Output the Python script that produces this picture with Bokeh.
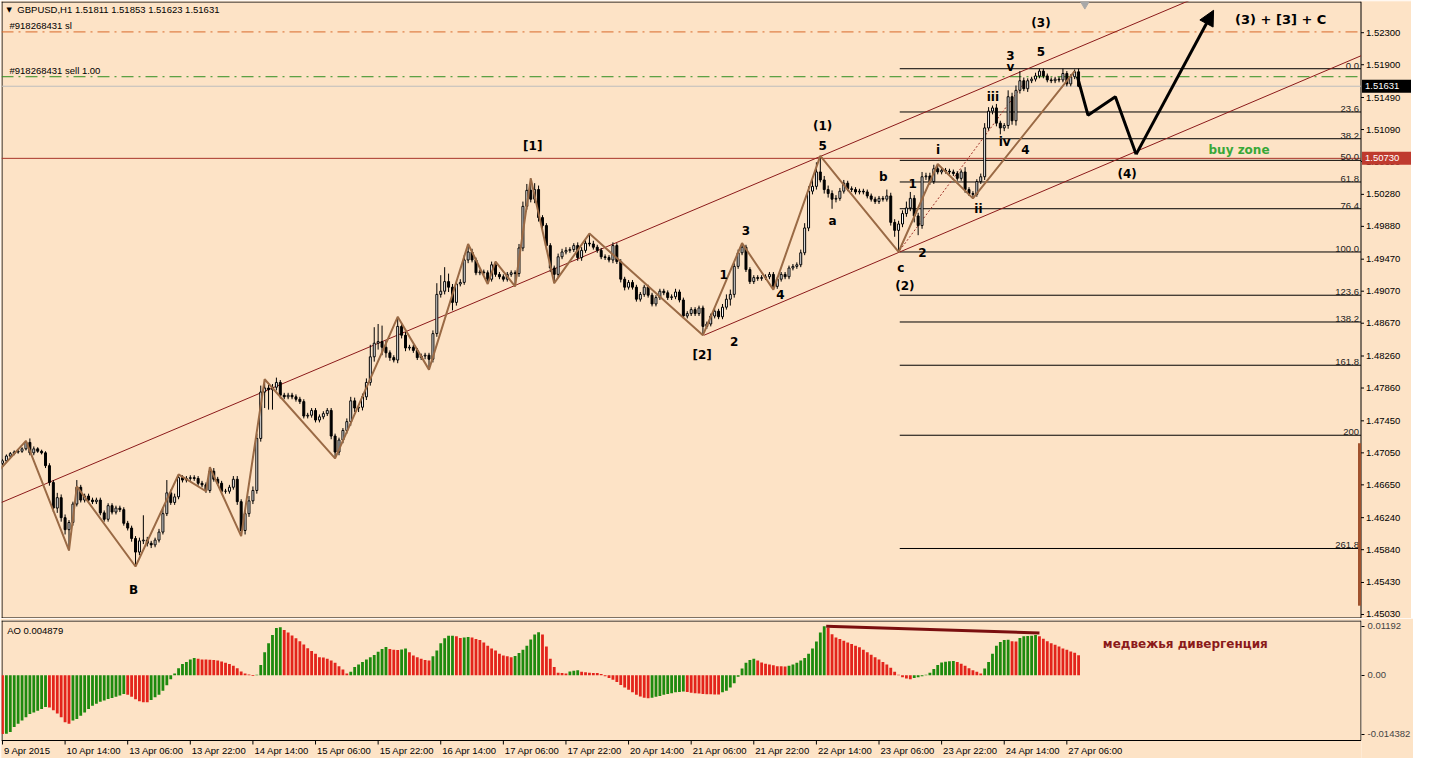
from bokeh.plotting import figure
from bokeh.models import (ColumnDataSource, Range1d, FixedTicker, Arrow, NormalHead)
from bokeh.layouts import column
from bokeh.core.properties import value
from bokeh.embed import file_html
from bokeh.resources import INLINE

BG = "#FDE3C6"
PIP = 0.0001
FW = 1360
AXW = 50

# ---------------- data ----------------
OPEN0 = 1.4692
closes = [
    1.4695, 1.4701, 1.4704, 1.4706, 1.4707, 1.4710, 1.4718, 1.4705, 1.4710, 1.4707,
    1.4705, 1.4689, 1.4668, 1.4636, 1.4649, 1.4624, 1.4609, 1.4618, 1.4641, 1.4662,
    1.4646, 1.4651, 1.4646, 1.4644, 1.4646, 1.4630, 1.4622, 1.4639, 1.4631, 1.4636,
    1.4634, 1.4617, 1.4611, 1.4598, 1.4581, 1.4595, 1.4596, 1.4592, 1.4590, 1.4596,
    1.4606, 1.4629, 1.4655, 1.4643, 1.4650, 1.4674, 1.4671, 1.4673, 1.4674, 1.4673,
    1.4667, 1.4665, 1.4658, 1.4682, 1.4672, 1.4667, 1.4657, 1.4657, 1.4662, 1.4672,
    1.4644, 1.4608, 1.4629, 1.4645, 1.4658, 1.4723, 1.4781, 1.4786, 1.4784, 1.4787,
    1.4793, 1.4777, 1.4775, 1.4777, 1.4775, 1.4772, 1.4769, 1.4751, 1.4752, 1.4758,
    1.4746, 1.4750, 1.4754, 1.4758, 1.4726, 1.4706, 1.4721, 1.4733, 1.4744, 1.4770,
    1.4761, 1.4762, 1.4775, 1.4793, 1.4825, 1.4842, 1.4844, 1.4837, 1.4830, 1.4824,
    1.4821, 1.4863, 1.4852, 1.4836, 1.4837, 1.4833, 1.4824, 1.4826, 1.4827, 1.4822,
    1.4854, 1.4903, 1.4907, 1.4919, 1.4912, 1.4893, 1.4916, 1.4918, 1.4946, 1.4956,
    1.4946, 1.4930, 1.4931, 1.4930, 1.4922, 1.4940, 1.4928, 1.4925, 1.4922, 1.4928,
    1.4930, 1.4929, 1.4961, 1.5013, 1.5033, 1.5022, 1.5034, 1.4999, 1.4989, 1.4964,
    1.4936, 1.4928, 1.4950, 1.4956, 1.4958, 1.4959, 1.4964, 1.4949, 1.4958, 1.4967,
    1.4966, 1.4962, 1.4958, 1.4950, 1.4949, 1.4946, 1.4964, 1.4944, 1.4922, 1.4912,
    1.4918, 1.4912, 1.4897, 1.4903, 1.4912, 1.4902, 1.4891, 1.4899, 1.4907, 1.4905,
    1.4899, 1.4900, 1.4906, 1.4896, 1.4876, 1.4879, 1.4884, 1.4879, 1.4886, 1.4863,
    1.4866, 1.4876, 1.4882, 1.4875, 1.4887, 1.4897, 1.4903, 1.4938, 1.4955, 1.4962,
    1.4934, 1.4919, 1.4924, 1.4923, 1.4924, 1.4925, 1.4928, 1.4913, 1.4922, 1.4928,
    1.4925, 1.4936, 1.4938, 1.4940, 1.4955, 1.4986, 1.5032, 1.5038, 1.5056, 1.5046,
    1.5034, 1.5029, 1.5022, 1.5023, 1.5032, 1.5042, 1.5035, 1.5034, 1.5031, 1.5032,
    1.5031, 1.5026, 1.5022, 1.5019, 1.5023, 1.5022, 1.5026, 1.4993, 1.4983, 1.4991,
    1.5004, 1.5011, 1.5023, 1.5001, 1.4989, 1.5050, 1.5051, 1.5044, 1.5060, 1.5056,
    1.5058, 1.5057, 1.5056, 1.5054, 1.5048, 1.5056, 1.5034, 1.5029, 1.5028, 1.5044,
    1.5050, 1.5111, 1.5132, 1.5136, 1.5117, 1.5111, 1.5114, 1.5150, 1.5120, 1.5158,
    1.5170, 1.5160, 1.5170, 1.5172, 1.5176, 1.5182, 1.5176, 1.5171, 1.5170, 1.5172,
    1.5171, 1.5179, 1.5166, 1.5175, 1.51811, 1.51631,
]
# upper / lower wick lengths in pips
wick_up = [
    2, 2, 2, 2, 2, 2, 2, 5, 3, 2,
    2, 2, 3, 3, 6, 4, 4, 3, 3, 9,
    3, 3, 3, 3, 3, 3, 3, 3, 3, 3,
    3, 3, 3, 3, 3, 4, 31, 4, 3, 3,
    4, 8, 16, 4, 4, 4, 3, 3, 3, 3,
    3, 3, 3, 5, 4, 3, 3, 3, 3, 4,
    4, 3, 4, 6, 5, 6, 8, 11, 4, 4,
    6, 3, 3, 3, 3, 3, 3, 3, 3, 3,
    3, 3, 3, 3, 3, 3, 3, 3, 4, 5,
    4, 4, 4, 5, 15, 20, 22, 20, 8, 3,
    3, 12, 4, 4, 3, 3, 3, 3, 3, 3,
    4, 14, 20, 18, 10, 4, 3, 4, 6, 10,
    4, 3, 3, 3, 3, 4, 4, 3, 3, 3,
    3, 3, 5, 6, 8, 15, 8, 5, 3, 3,
    3, 3, 4, 4, 4, 3, 3, 4, 4, 6,
    12, 4, 3, 3, 3, 3, 4, 3, 3, 3,
    3, 3, 3, 3, 3, 3, 3, 3, 3, 3,
    3, 3, 4, 3, 3, 3, 3, 3, 3, 3,
    3, 3, 3, 3, 4, 6, 6, 4, 4, 5,
    3, 3, 3, 3, 3, 3, 3, 3, 3, 3,
    3, 3, 3, 3, 4, 6, 6, 8, 12, 20,
    5, 5, 4, 4, 4, 4, 3, 3, 3, 3,
    3, 3, 3, 3, 3, 3, 8, 4, 4, 4,
    4, 8, 8, 4, 4, 6, 4, 4, 5, 5,
    3, 3, 3, 3, 3, 3, 6, 3, 3, 3,
    4, 6, 5, 3, 5, 3, 3, 8, 5, 6,
    12, 4, 3, 3, 4, 3, 3, 3, 3, 3,
    3, 6, 3, 3, 3, 4,
]
wick_dn = [
    2, 2, 2, 2, 2, 2, 2, 3, 3, 2,
    2, 3, 4, 5, 6, 5, 6, 26, 4, 3,
    3, 3, 3, 3, 3, 3, 3, 3, 3, 3,
    3, 3, 3, 4, 18, 4, 4, 4, 4, 3,
    3, 3, 3, 3, 3, 3, 3, 3, 3, 3,
    3, 3, 3, 3, 3, 3, 3, 3, 3, 3,
    4, 7, 5, 4, 4, 4, 4, 20, 25, 25,
    4, 4, 3, 3, 3, 3, 3, 3, 3, 3,
    3, 3, 3, 3, 4, 8, 4, 4, 4, 5,
    5, 5, 4, 4, 4, 6, 8, 10, 6, 4,
    3, 4, 4, 4, 3, 3, 3, 3, 4, 13,
    4, 4, 4, 4, 6, 10, 4, 3, 3, 4,
    3, 3, 3, 3, 6, 3, 3, 3, 3, 3,
    3, 16, 4, 4, 4, 4, 5, 5, 5, 5,
    5, 11, 4, 3, 3, 3, 3, 4, 4, 3,
    3, 3, 3, 3, 3, 3, 4, 3, 4, 4,
    3, 3, 3, 3, 3, 3, 3, 3, 3, 3,
    3, 3, 3, 3, 3, 3, 3, 3, 3, 11,
    3, 3, 3, 3, 3, 3, 8, 4, 3, 3,
    3, 3, 3, 3, 3, 3, 3, 4, 3, 3,
    3, 3, 3, 3, 3, 3, 4, 4, 4, 3,
    5, 5, 12, 4, 3, 3, 3, 3, 3, 3,
    3, 3, 3, 3, 3, 3, 3, 4, 8, 27,
    4, 4, 4, 8, 12, 4, 4, 4, 3, 3,
    3, 3, 3, 3, 3, 3, 4, 3, 5, 3,
    3, 4, 3, 4, 4, 8, 4, 4, 5, 6,
    4, 3, 4, 3, 3, 3, 3, 3, 3, 3,
    3, 3, 3, 3, 3, 1,
]

AO_PREV = -0.0140
ao = [
    -0.01438, -0.01430, -0.01390, -0.01270, -0.01190, -0.01110, -0.01030, -0.00950, -0.00910, -0.00870,
    -0.00830, -0.00780, -0.00790, -0.00860, -0.00940, -0.01030, -0.01150, -0.01190, -0.01110, -0.01070,
    -0.00990, -0.00910, -0.00830, -0.00750, -0.00700, -0.00650, -0.00620, -0.00580, -0.00560, -0.00530,
    -0.00500, -0.00460, -0.00480, -0.00530, -0.00590, -0.00640, -0.00660, -0.00665, -0.00610, -0.00540,
    -0.00480, -0.00380, -0.00250, -0.00100, 0.00040, 0.00170, 0.00270, 0.00320, 0.00380, 0.00420,
    0.00400, 0.00385, 0.00380, 0.00375, 0.00370, 0.00355, 0.00335, 0.00300, 0.00270, 0.00230,
    0.00170, 0.00090, 0.00040, 0.00015, -0.00020, 0.00010, 0.00250, 0.00560, 0.00780, 0.00980,
    0.01150, 0.01170, 0.01100, 0.01040, 0.00970, 0.00900, 0.00830, 0.00750, 0.00660, 0.00590,
    0.00520, 0.00440, 0.00430, 0.00400, 0.00360, 0.00300, 0.00220, 0.00140, 0.00040, 0.00080,
    0.00200, 0.00260, 0.00320, 0.00380, 0.00440, 0.00490, 0.00570, 0.00640, 0.00690, 0.00640,
    0.00620, 0.00615, 0.00625, 0.00650, 0.00560, 0.00480, 0.00440, 0.00400, 0.00370, 0.00360,
    0.00460, 0.00600, 0.00780, 0.00900, 0.00960, 0.00965, 0.00950, 0.00910, 0.00920, 0.00930,
    0.00920, 0.00880, 0.00860, 0.00800, 0.00720, 0.00650, 0.00600, 0.00520, 0.00480, 0.00460,
    0.00440, 0.00470, 0.00540, 0.00620, 0.00720, 0.00870, 0.00990, 0.01050, 0.00990, 0.00700,
    0.00400, 0.00200, 0.00060, 0.00050, 0.00040, 0.00090, 0.00110, 0.00120, 0.00080, 0.00070,
    0.00060, 0.00055, 0.00050, 0.00030, -0.00030, -0.00070, -0.00110, -0.00170, -0.00240, -0.00300,
    -0.00360, -0.00420, -0.00480, -0.00520, -0.00550, -0.00565, -0.00550, -0.00530, -0.00510, -0.00480,
    -0.00460, -0.00440, -0.00420, -0.00410, -0.00400, -0.00410, -0.00430, -0.00440, -0.00450, -0.00460,
    -0.00465, -0.00470, -0.00472, -0.00475, -0.00420, -0.00380, -0.00300, -0.00200, -0.00040, 0.00160,
    0.00300, 0.00370, 0.00400, 0.00360, 0.00310, 0.00280, 0.00260, 0.00240, 0.00220, 0.00215,
    0.00210, 0.00230, 0.00260, 0.00300, 0.00360, 0.00420, 0.00520, 0.00650, 0.00820, 0.01040,
    0.01192, 0.01150, 0.01000, 0.00920, 0.00880, 0.00840, 0.00800, 0.00760, 0.00720, 0.00680,
    0.00620, 0.00560, 0.00500, 0.00440, 0.00380, 0.00320, 0.00260, 0.00180, 0.00080, 0.00010,
    -0.00050, -0.00080, -0.00100, -0.00070, -0.00050, -0.00030, 0.00010, 0.00060, 0.00150, 0.00250,
    0.00310, 0.00330, 0.00340, 0.00345, 0.00320, 0.00280, 0.00230, 0.00170, 0.00120, 0.00080,
    0.00040, 0.00160, 0.00320, 0.00520, 0.00720, 0.00810, 0.00860, 0.00865, 0.00830, 0.00820,
    0.00910, 0.00950, 0.00955, 0.00960, 0.00980, 0.00950, 0.00890, 0.00830, 0.00780, 0.00740,
    0.00700, 0.00650, 0.00620, 0.00580, 0.00550, 0.004879,
]

# zigzag wave path (bar index, price)
zz_bars = [-2, 6, 17, 19, 34, 45, 52, 53, 61, 67, 85, 101, 109, 119, 124, 126, 131, 135, 141,
           150, 179, 189, 197, 209, 215, 229, 239, 248, 274]
zz_prices = [1.4677, 1.4720, 1.4583, 1.4663, 1.4563, 1.4678, 1.4657, 1.4687, 1.4601, 1.4797,
             1.4698, 1.4875, 1.4809, 1.4966, 1.4916, 1.4944, 1.4913, 1.5048, 1.4917, 1.4979,
             1.4852, 1.4967, 1.4909, 1.5076, 1.5040, 1.4956, 1.5066, 1.5023, 1.5182]

# projected path
proj_bars = [274.7, 277.4, 284.4, 289.7, 309.5]
proj_prices = [1.5175, 1.5127, 1.5150, 1.5078, 1.5258]

# channel lines (two anchors each)
chan_up_bars = [-0.25, 209.3]
chan_up_prices = [1.4643, 1.5076]
chan_lo_bars = [179.3, 229.3]
chan_lo_prices = [1.4852, 1.4956]
dot_bars = [229.3, 260.6]
dot_prices = [1.4958, 1.5164]

# fibonacci
FIB_START = 229.3
FIB_HIGH = 1.5185
FIB_LOW = 1.4956
fib_levels = [0.0, 23.6, 38.2, 50.0, 61.8, 76.4, 100.0, 123.6, 138.2, 161.8, 200.0, 261.8]
fib_texts = ["0.0", "23.6", "38.2", "50.0", "61.8", "76.4", "100.0", "123.6", "138.2", "161.8", "200", "261.8"]

SL_PRICE = 1.5231
SELL_PRICE = 1.5175
BID = 1.51631
RED_LEVEL = 1.50730
box_prices = [BID, RED_LEVEL]
box_texts = ["1.51631", "1.50730"]
box_colors = ["black", "#BF3A2E"]

price_ticks = [1.52300, 1.51900, 1.51490, 1.51090, 1.50690, 1.50280, 1.49880, 1.49470, 1.49070,
               1.48670, 1.48260, 1.47860, 1.47450, 1.47050, 1.46650, 1.46240, 1.45840, 1.45430, 1.45030]
ao_ticks = [-0.014382, 0.0, 0.01192]
ao_tick_text = {-0.014382: "-0.014382", 0.0: "0.00", 0.01192: "0.01192"}

time_ticks = [0, 16, 32, 48, 64, 80, 96, 112, 128, 144, 160, 176, 192, 208, 224, 240, 256, 272]
time_labels = ["9 Apr 2015", "10 Apr 14:00", "13 Apr 06:00", "13 Apr 22:00", "14 Apr 14:00",
               "15 Apr 06:00", "15 Apr 22:00", "16 Apr 14:00", "17 Apr 06:00", "17 Apr 22:00",
               "20 Apr 14:00", "21 Apr 06:00", "21 Apr 22:00", "22 Apr 14:00", "23 Apr 06:00",
               "23 Apr 22:00", "24 Apr 14:00", "27 Apr 06:00"]

wave_text = ["[1]", "(1)", "5", "[2]", "B", "1", "3", "2", "4", "a", "b", "c", "(2)", "2", "1",
             "i", "ii", "iii", "iv", "4", "3", "v", "5", "(3)", "(4)"]
wave_bar = [135.5, 209.6, 209.6, 178.8, 33.5, 184.3, 190.0, 187.0, 198.8, 212.1, 225.1, 229.6,
            230.6, 235.1, 232.6, 239.1, 249.4, 253.1, 256.1, 261.4, 257.6, 257.6, 265.4, 265.4, 287.4]
wave_price = [1.5089, 1.5114, 1.5089, 1.4827, 1.4534, 1.4928, 1.4983, 1.4844, 1.4903, 1.4995,
              1.5050, 1.4936, 1.4913, 1.4955, 1.5042, 1.5084, 1.5010, 1.5150, 1.5093, 1.5084,
              1.5201, 1.5187, 1.5207, 1.5242, 1.5053]

div_bars = [210.5, 265.0]
div_vals = [0.01195, 0.01030]

# ---------------- derived ----------------
bars = list(range(len(closes)))
opens = [OPEN0] + closes[:-1]
highs = [max(o, c) + u * PIP for o, c, u in zip(opens, closes, wick_up)]
lows = [min(o, c) - d * PIP for o, c, d in zip(opens, closes, wick_dn)]
tops = [max(o, c) for o, c in zip(opens, closes)]
bots = [min(o, c) for o, c in zip(opens, closes)]
fills = ["white" if c >= o else "black" for o, c in zip(opens, closes)]

prev = [AO_PREV] + ao[:-1]
ao_cols = ["#1E8A0E" if a > b else "#E3241B" for a, b in zip(ao, prev)]

AXF = "Liberation Sans"
AXS = "9.5px"

X0, X1 = -0.25, 347.3
ppb = FW / (X1 - X0)          # pixels per bar
dx = 1.0 / ppb                # bars per pixel
XR = X1 + AXW * dx            # right end of the price canvas (axis strip inside)

FH = 617
YB, YT = 1.4498, 1.5269
dy = (YT - YB) / FH

# ---------------- price panel ----------------
p = figure(frame_width=FW + AXW, frame_height=FH, x_range=Range1d(X0, XR), y_range=Range1d(YB, YT),
           output_backend="svg", toolbar_location=None, x_axis_location=None,
           y_axis_location=None, min_border_left=1, min_border_right=0,
           min_border_top=1, min_border_bottom=0, background_fill_color=BG,
           border_fill_color=BG, outline_line_color=None)
p.grid.visible = False

# frame border of the price window
XRB = X1 - 0.5 * dx
p.segment(x0=[X0 + 0.5 * dx, X0, X0, XRB], y0=[YB, YT - 0.5 * dy, YB + 0.5 * dy, YB],
          x1=[X0 + 0.5 * dx, XRB, XRB, XRB], y1=[YT, YT - 0.5 * dy, YB + 0.5 * dy, YT],
          line_color="black", line_width=1)

# price scale on the right
n = len(price_ticks)
p.segment(x0=[XRB] * n, x1=[XRB + 3 * dx] * n, y0=price_ticks, y1=price_ticks,
          line_color="black", line_width=1)
p.text(x=[XRB + 5 * dx] * n, y=price_ticks, text=["%.5f" % v for v in price_ticks],
       text_font=value(AXF), text_font_size=AXS, text_baseline="middle", text_align="left",
       text_color="black")
p.quad(left=[XRB + 1 * dx] * 2, right=[XR] * 2, top=[v + 6.5 * dy for v in box_prices],
       bottom=[v - 6.5 * dy for v in box_prices], fill_color=box_colors, line_color=None)
p.text(x=[XRB + 4 * dx] * 2, y=box_prices, text=box_texts, text_font=value(AXF),
       text_font_size=AXS, text_baseline="middle", text_align="left", text_color="white")

# horizontal order lines
p.segment(x0=[X0] * 2, x1=[XRB] * 2, y0=[SL_PRICE, SELL_PRICE], y1=[SL_PRICE, SELL_PRICE],
          line_color=["#D9692B", "#2F8F1F"], line_width=1, line_dash="12 5 2 5")
p.segment(x0=[X0] * 2, x1=[XRB] * 2, y0=[BID, RED_LEVEL], y1=[BID, RED_LEVEL],
          line_color=["#BDBDBD", "#A8352A"], line_width=1)

# fibonacci levels
fib_prices = [FIB_HIGH - lv / 100.0 * (FIB_HIGH - FIB_LOW) for lv in fib_levels]
m = len(fib_prices)
p.segment(x0=[FIB_START] * m, x1=[XRB] * m, y0=fib_prices, y1=fib_prices,
          line_color="black", line_width=1)
p.text(x=[XRB - 2 * dx] * m, y=fib_prices, text=fib_texts, text_align="right",
       text_baseline="bottom", text_font=value(AXF), text_font_size=AXS, text_color="#222222")


def extend(bx, py, x_end):
    slope = (py[1] - py[0]) / (bx[1] - bx[0])
    return [bx[0], x_end], [py[0], py[0] + slope * (x_end - bx[0])]


ux, uy = extend(chan_up_bars, chan_up_prices, XRB)
lx, ly = extend(chan_lo_bars, chan_lo_prices, XRB)
p.line(ux, uy, line_color="#8B1A1A", line_width=1)
p.line(lx, ly, line_color="#8B1A1A", line_width=1)
p.line(dot_bars, dot_prices, line_color="#A0322A", line_width=1, line_dash="2 2")

# candles
src = ColumnDataSource(dict(x=bars, h=highs, l=lows, top=tops, bot=bots, fill=fills))
p.segment(x0="x", y0="l", x1="x", y1="h", source=src, line_color="black", line_width=1)
p.vbar(x="x", width=0.5, top="top", bottom="bot", fill_color="fill", line_color="black",
       line_width=1, source=src)

# zigzag
p.line(zz_bars, zz_prices, line_color="#9A6A45", line_width=2)

# projection
p.line(proj_bars[:-1], proj_prices[:-1], line_color="black", line_width=3)
p.add_layout(Arrow(end=NormalHead(size=15, fill_color="black", line_color="black"),
                   x_start=proj_bars[-2], y_start=proj_prices[-2],
                   x_end=proj_bars[-1], y_end=proj_prices[-1],
                   line_color="black", line_width=3))

# right-edge bar and shift marker
p.segment(x0=[XRB - 1.5 * dx], y0=[1.4717], x1=[XRB - 1.5 * dx], y1=[1.4514],
          line_color="#A0522D", line_width=3)
p.scatter(x=[276.6], y=[1.5266], marker="inverted_triangle", size=9, fill_color="#A8A8A8",
          line_color="#A8A8A8")

# wave labels
wsrc = ColumnDataSource(dict(x=wave_bar, y=wave_price, t=wave_text))
p.text(x="x", y="y", text="t", source=wsrc, text_font=value("DejaVu Sans"),
       text_font_style="bold", text_font_size="12px", text_align="center",
       text_baseline="middle", text_color="black")
p.text(x=[308.2], y=[1.5084], text=["buy zone"], text_font=value("DejaVu Sans"),
       text_font_style="bold", text_font_size="12px", text_align="left",
       text_baseline="middle", text_color="#38A838")
p.text(x=[315.0], y=[1.5247], text=["(3) + [3] + C"], text_font=value("DejaVu Sans"),
       text_font_style="bold", text_font_size="13px", text_align="left",
       text_baseline="middle", text_color="black")

# header / order texts
p.text(x=[1.0], y=[1.5259], text=["\u25BC"], text_font=value("DejaVu Sans"), text_font_size="7px",
       text_baseline="middle", text_color="black")
p.text(x=[3.8], y=[1.5259], text=["GBPUSD,H1  1.51811 1.51853 1.51623 1.51631"],
       text_font=value(AXF), text_font_size=AXS, text_baseline="middle", text_color="black")
p.text(x=[1.8, 1.8], y=[SL_PRICE, SELL_PRICE], text=["#918268431 sl", "#918268431 sell 1.00"],
       text_font=value(AXF), text_font_size=AXS, text_baseline="bottom", text_color="black",
       y_offset=-1)

# ---------------- AO panel ----------------
FH2 = 120
AXH = 18
AB, AT = -0.01597, 0.01335
ady = (AT - AB) / FH2
AB2 = AB - AXH * ady

q = figure(frame_width=FW, frame_height=FH2 + AXH, x_range=Range1d(X0, X1),
           y_range=Range1d(AB2, AT), output_backend="svg", toolbar_location=None,
           x_axis_location=None, y_axis_location="right", min_border_left=1,
           min_border_right=AXW, min_border_top=2, min_border_bottom=0,
           background_fill_color=BG, border_fill_color=BG, outline_line_color=None)
q.grid.visible = False
qy = q.yaxis[0]
qy.ticker = FixedTicker(ticks=ao_ticks)
qy.major_label_overrides = ao_tick_text
qy.major_label_text_font = AXF
qy.major_label_text_font_size = AXS
qy.major_tick_out = 3
qy.major_tick_in = 0
qy.minor_tick_line_color = None
qy.major_label_standoff = 3
qy.axis_line_color = None

# AO window border
QRB = X1 - 0.5 * dx
q.segment(x0=[X0 + 0.5 * dx, X0, X0, QRB], y0=[AB, AT - 0.5 * ady, AB, AB],
          x1=[X0 + 0.5 * dx, QRB, QRB, QRB], y1=[AT, AT - 0.5 * ady, AB, AT],
          line_color="black", line_width=1)

q.vbar(x=bars, top=ao, bottom=0, width=0.72, fill_color=ao_cols, line_color=None)
q.line(div_bars, div_vals, line_color="#7A0F0F", line_width=3)
q.text(x=[1.2], y=[0.0110], text=["AO 0.004879"], text_font=value(AXF), text_font_size=AXS,
       text_baseline="middle", text_color="black")
q.text(x=[281.2], y=[0.0076], text=["медвежья дивергенция"], text_font=value("DejaVu Sans"),
       text_font_style="bold", text_font_size="12px", text_baseline="middle", text_color="#8B1A1A")

# time scale
k = len(time_ticks)
q.segment(x0=time_ticks, x1=time_ticks, y0=[AB] * k, y1=[AB - 4 * ady] * k,
          line_color="black", line_width=1)
q.text(x=[t + 1.5 * dx for t in time_ticks], y=[AB - 9.5 * ady] * k, text=time_labels,
       text_font=value(AXF), text_font_size=AXS, text_baseline="middle", text_align="left",
       text_color="black")

layout = column(p, q, spacing=0)
open("out.html", "w").write(file_html(layout, INLINE))
